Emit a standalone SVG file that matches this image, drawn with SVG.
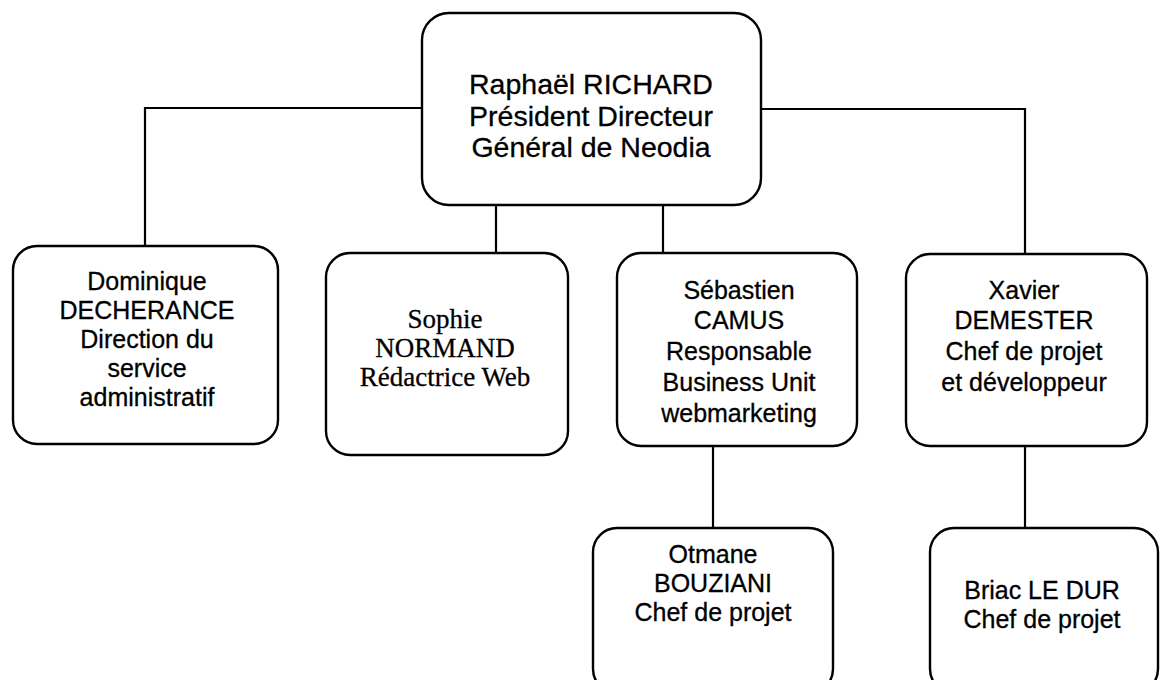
<svg xmlns="http://www.w3.org/2000/svg" width="1161" height="680" viewBox="0 0 1161 680">
<style>
.box{fill:#fff;stroke:#000;stroke-width:2.4}
.con{fill:none;stroke:#000;stroke-width:2.2}
.t{font-family:"Liberation Sans",Arial,sans-serif;font-size:25px;fill:#000;text-anchor:middle;stroke:#000;stroke-width:0.3}
.big{font-size:28.5px}
.serif{font-family:"Liberation Serif","Times New Roman",serif;font-size:27px}
</style>
<rect width="1161" height="680" fill="#fff"/>
<g id="connectors">
<polyline class="con" points="422,108 145,108 145,246"/>
<polyline class="con" points="761,109 1025,109 1025,254"/>
<line class="con" x1="496" y1="205" x2="496" y2="253"/>
<line class="con" x1="663" y1="205" x2="663" y2="253"/>
<line class="con" x1="713" y1="446" x2="713" y2="528"/>
<line class="con" x1="1025" y1="446" x2="1025" y2="528"/>
</g>
<g id="richard">
<rect class="box" x="422" y="13" width="339" height="192" rx="27"/>
<text class="t big" x="591" y="94">Raphaël RICHARD</text>
<text class="t big" x="591" y="126">Président Directeur</text>
<text class="t big" x="591" y="157">Général de Neodia</text>
</g>
<g id="decherance">
<rect class="box" x="13" y="246" width="265" height="198" rx="24"/>
<text class="t" x="147" y="290">Dominique</text>
<text class="t" x="147" y="319">DECHERANCE</text>
<text class="t" x="147" y="348">Direction du</text>
<text class="t" x="147" y="377">service</text>
<text class="t" x="147" y="406">administratif</text>
</g>
<g id="normand">
<rect class="box" x="326" y="253" width="242" height="202" rx="24"/>
<text class="t serif" x="445" y="328">Sophie</text>
<text class="t serif" x="445" y="357">NORMAND</text>
<text class="t serif" x="445" y="386">Rédactrice Web</text>
</g>
<g id="camus">
<rect class="box" x="617" y="253" width="240" height="193" rx="24"/>
<text class="t" x="739" y="299">Sébastien</text>
<text class="t" x="739" y="329">CAMUS</text>
<text class="t" x="739" y="360">Responsable</text>
<text class="t" x="739" y="391">Business Unit</text>
<text class="t" x="739" y="422">webmarketing</text>
</g>
<g id="demester">
<rect class="box" x="906" y="254" width="241" height="192" rx="24"/>
<text class="t" x="1024" y="299">Xavier</text>
<text class="t" x="1024" y="329">DEMESTER</text>
<text class="t" x="1024" y="360">Chef de projet</text>
<text class="t" x="1024" y="391">et développeur</text>
</g>
<g id="bouziani">
<rect class="box" x="593" y="528" width="240" height="165" rx="24"/>
<text class="t" x="713" y="563">Otmane</text>
<text class="t" x="713" y="592">BOUZIANI</text>
<text class="t" x="713" y="621">Chef de projet</text>
</g>
<g id="ledur">
<rect class="box" x="930" y="528" width="228" height="165" rx="24"/>
<text class="t" x="1042" y="599">Briac LE DUR</text>
<text class="t" x="1042" y="628">Chef de projet</text>
</g>
</svg>
